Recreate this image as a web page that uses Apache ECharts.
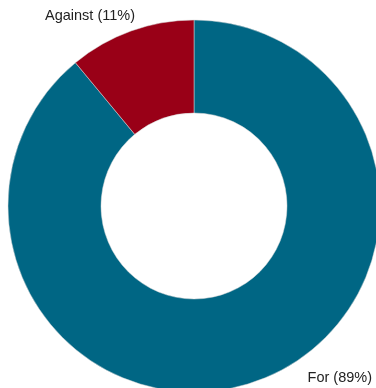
<!DOCTYPE html>
<html>
<head>
<meta charset="utf-8">
<script src="https://cdn.jsdelivr.net/npm/echarts@6/dist/echarts.min.js"></script>
<style>
  html, body { margin: 0; padding: 0; background: #fff; }
  #chart { width: 376px; height: 388px; }
</style>
</head>
<body>
<div id="chart"></div>
<script>
// Vote share, drawn as a donut
const categories = ['For', 'Against'];
const shares = [89, 11];
const colors = ['#006684', '#990017'];

// Where each slice's caption sits
const labelSpots = {
  For: { x: 372, y: 378, align: 'right' },
  Against: { x: 45, y: 16, align: 'left' }
};

const chart = echarts.init(document.getElementById('chart'), null, { renderer: 'canvas' });

chart.setOption({
  animation: false,
  series: [{
    type: 'pie',
    center: [194, 206],
    radius: [93, 186],
    startAngle: 90,
    clockwise: true,
    data: categories.map((name, i) => ({
      name: name,
      value: shares[i],
      itemStyle: { color: colors[i] }
    })),
    itemStyle: { borderColor: '#d8d8d8', borderWidth: 0.5 },
    label: {
      show: true,
      position: 'outside',
      formatter: p => p.name + ' (' + p.value + '%)',
      fontFamily: 'Liberation Sans, Arial, sans-serif',
      fontSize: 14.5,
      color: '#222',
      overflow: 'none'
    },
    labelLine: { show: false },
    labelLayout: params => {
      const spot = labelSpots[categories[params.dataIndex]];
      return { x: spot.x, y: spot.y, align: spot.align, verticalAlign: 'middle', width: 120 };
    },
    emphasis: { disabled: true }
  }]
});
</script>
</body>
</html>
